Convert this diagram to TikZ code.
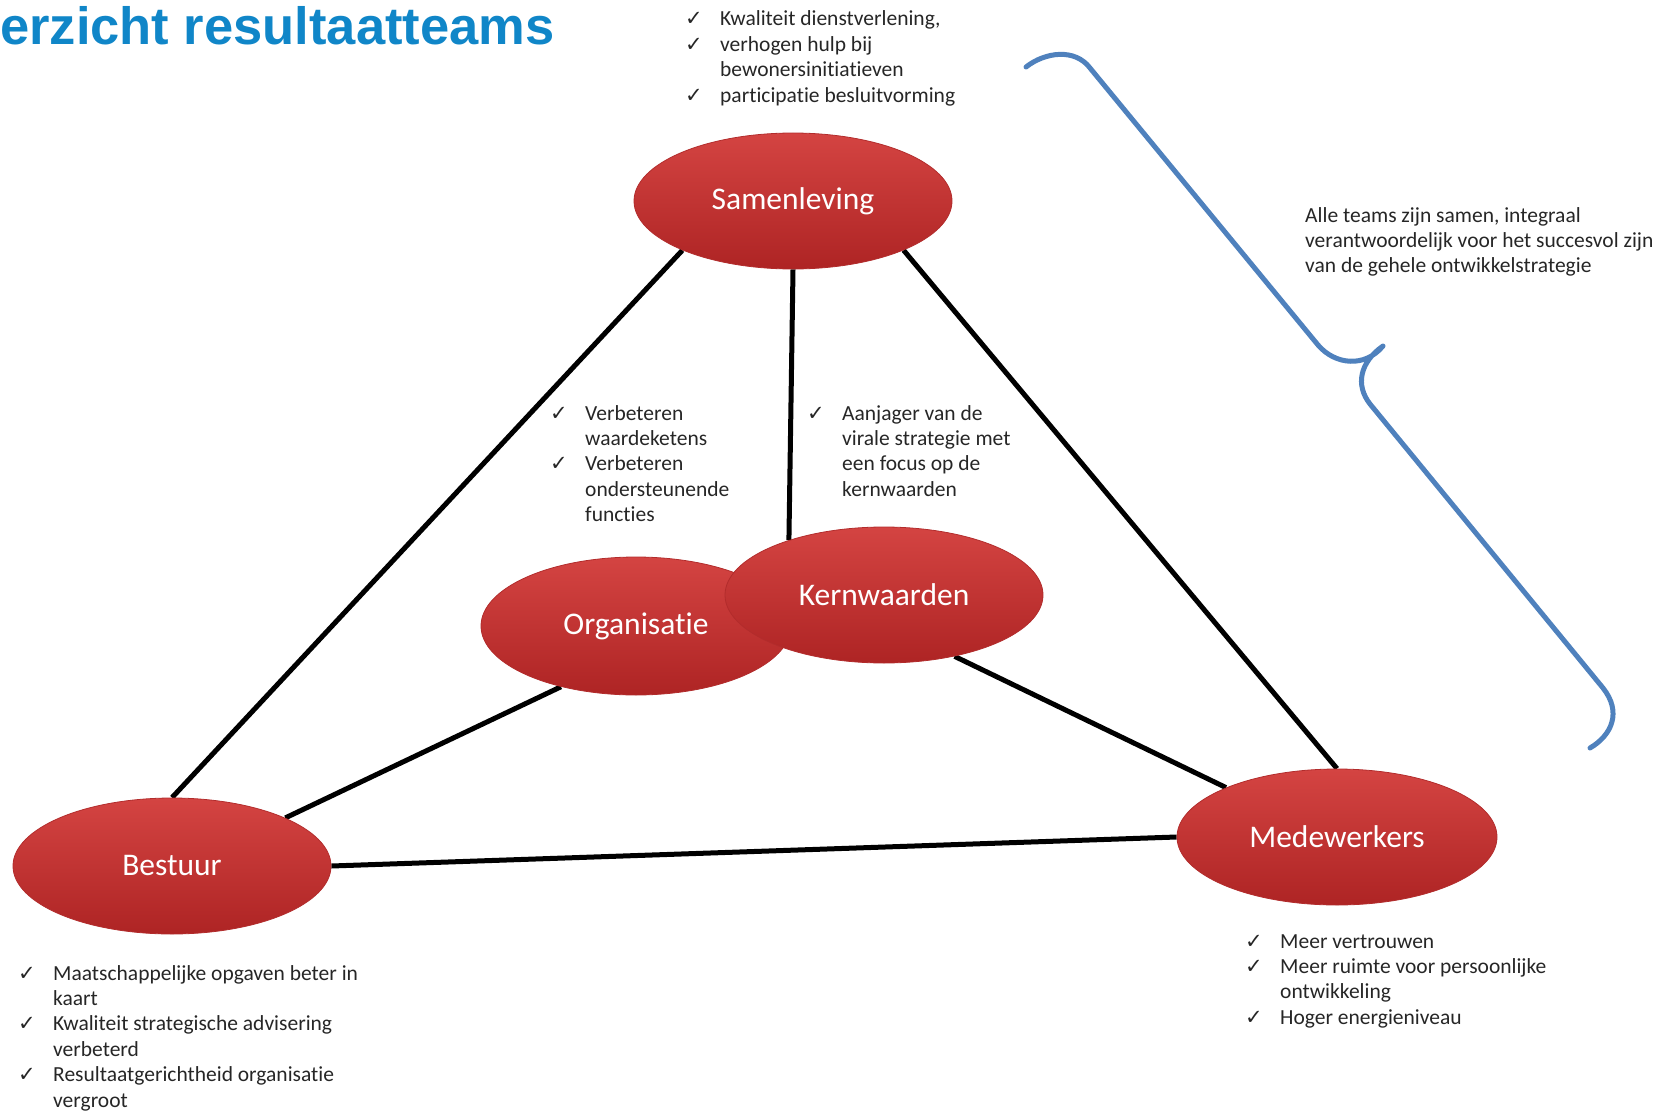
\documentclass[tikz,border=0pt]{standalone}
\usepackage{fontspec}
\setmainfont{Carlito}[Ligatures=NoCommon]
\newfontfamily\titlefont{Liberation Sans}
\newfontfamily\checkfont{DejaVu Sans}
\usetikzlibrary{shapes.geometric,backgrounds}

\definecolor{teamtop}{RGB}{212,68,66}
\definecolor{teambottom}{RGB}{174,36,36}
\definecolor{teamedge}{RGB}{178,44,44}
\definecolor{titleblue}{RGB}{16,134,200}
\definecolor{braceblue}{RGB}{79,129,189}

\newcommand{\chk}{\makebox[35pt][l]{\checkfont\fontsize{21}{21}\selectfont ✓}}
\newcommand{\nochk}{\hspace*{35pt}}

\begin{document}
\begin{tikzpicture}[x=1pt, y=-1pt,
        team/.style={ellipse, minimum width=318pt, minimum height=136pt, inner sep=0pt,
            top color=teamtop, bottom color=teambottom, draw=teamedge, line width=0.8pt,
            text=white, font=\fontsize{31.5}{36}\selectfont},
        link/.style={line width=5pt, black},
        checklist/.style={anchor=base west, inner sep=0pt, text=black!85,
            font=\fontsize{21.5}{25.4}\selectfont},
        accolade/.style={line width=5pt, braceblue, line cap=round, line join=round}]
    \useasboundingbox (0,0) rectangle (1665,1113);

    % titel
    \node[anchor=base west, inner sep=0pt, text=titleblue,
        font=\titlefont\bfseries\fontsize{52.5}{60}\selectfont] (titel) at (0,45) {erzicht resultaatteams};

    % teams
    \node[team] (samenleving) at (793,201) {Samenleving};
    \node[team, minimum width=310pt, minimum height=138pt] (organisatie) at (636,626) {Organisatie};
    \node[team] (kernwaarden) at (884,595) {Kernwaarden};
    \node[team] (bestuur) at (172,866) {Bestuur};
    \node[team, minimum width=320pt] (medewerkers) at (1337,837) {Medewerkers};

    % verbindingen
    \begin{scope}[on background layer]
        \draw[link] (samenleving.-156) -- (bestuur.north);
        \draw[link] (samenleving.south) -- (kernwaarden.150);
        \draw[link] (samenleving.-24) -- (medewerkers.north);
        \draw[link] (organisatie.-141) -- (bestuur.23);
        \draw[link] (kernwaarden.-41) -- (medewerkers.156);
        \draw[link] (bestuur.east) -- (medewerkers.west);
    \end{scope}

    % accolade
    \draw[accolade] (1026,67) .. controls (1045,52) and (1075,48) .. (1090,68)
        -- (1318,345) .. controls (1335,365) and (1365,368) .. (1383,346)
        .. controls (1360,362) and (1355,385) .. (1370,404)
        -- (1603,688) .. controls (1622,712) and (1612,735) .. (1590,748);

    % teksten
    \node[checklist] (samenlevingpunten) at (685,26) {\begin{tabular}[t]{@{}l@{}}
        \chk Kwaliteit dienstverlening,\\
        \chk verhogen hulp bij\\
        \nochk bewonersinitiatieven\\
        \chk participatie besluitvorming
    \end{tabular}};
    \node[checklist] (organisatiepunten) at (550,420) {\begin{tabular}[t]{@{}l@{}}
        \chk Verbeteren\\
        \nochk waardeketens\\
        \chk Verbeteren\\
        \nochk ondersteunende\\
        \nochk functies
    \end{tabular}};
    \node[checklist] (kernwaardenpunten) at (807,420) {\begin{tabular}[t]{@{}l@{}}
        \chk Aanjager van de\\
        \nochk virale strategie met\\
        \nochk een focus op de\\
        \nochk kernwaarden
    \end{tabular}};
    \node[checklist] (teamstekst) at (1305,222) {\begin{tabular}[t]{@{}l@{}}
        Alle teams zijn samen, integraal\\
        verantwoordelijk voor het succesvol zijn\\
        van de gehele ontwikkelstrategie
    \end{tabular}};
    \node[checklist] (bestuurpunten) at (18,980) {\begin{tabular}[t]{@{}l@{}}
        \chk Maatschappelijke opgaven beter in\\
        \nochk kaart\\
        \chk Kwaliteit strategische advisering\\
        \nochk verbeterd\\
        \chk Resultaatgerichtheid organisatie\\
        \nochk vergroot
    \end{tabular}};
    \node[checklist] (medewerkerspunten) at (1245,948) {\begin{tabular}[t]{@{}l@{}}
        \chk Meer vertrouwen\\
        \chk Meer ruimte voor persoonlijke\\
        \nochk ontwikkeling\\
        \chk Hoger energieniveau
    \end{tabular}};
\end{tikzpicture}
\end{document}
